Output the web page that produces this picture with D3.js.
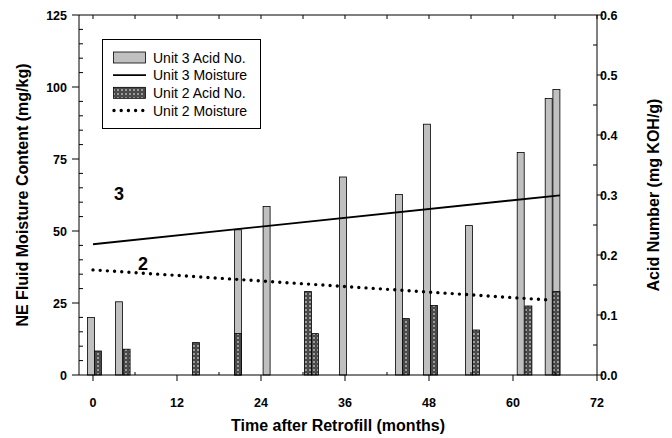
<!DOCTYPE html>
<html lang="en">
<head>
    <meta charset="UTF-8">
    <title>Moisture and acid number after retrofill</title>
    <script src="https://d3js.org/d3.v7.min.js"></script>
    <style>
        body { margin: 0; background: #fff; }
        svg { display: block; font-family: "Liberation Sans", Arial, sans-serif; }
        .tick-label { font-size: 12.5px; font-weight: bold; }
        .axis-title { font-size: 16px; font-weight: bold; }
    </style>
</head>
<body>
    <svg width="672" height="438"></svg>

    <script>
        // months of each bar (bar centre) and acid number (mg KOH/g)
        const unit3Months = [-0.3, 3.7, 20.7, 24.8, 35.7, 43.7, 47.7, 53.7, 61.1, 65.1, 66.2];
        const unit3Acid   = [0.096, 0.122, 0.242, 0.281, 0.330, 0.301, 0.418, 0.249, 0.371, 0.461, 0.476];
        const unit2Months = [0.7, 4.8, 14.7, 20.7, 30.7, 31.7, 44.7, 48.7, 54.7, 62.2, 66.2];
        const unit2Acid   = [0.040, 0.043, 0.054, 0.069, 0.139, 0.069, 0.094, 0.116, 0.075, 0.115, 0.139];

        // moisture trend lines (mg/kg)
        const unit3Moisture = [[0, 45.4], [66.7, 62.4]];
        const unit2Moisture = [[0, 36.5], [65.4, 26.0]];

        const xTicks = [0, 12, 24, 36, 48, 60, 72];
        const yLeftTicks = [0, 25, 50, 75, 100, 125];
        const yRightTicks = [0, 0.1, 0.2, 0.3, 0.4, 0.5, 0.6];

        const legendItems = ["Unit 3 Acid No.", "Unit 3 Moisture", "Unit 2 Acid No.", "Unit 2 Moisture"];

        const svg = d3.select("svg");
        const pLeft = 79, pRight = 597, pTop = 15, pBottom = 375;

        const x = d3.scaleLinear().domain([-2, 72]).range([pLeft, pRight]);
        const yL = d3.scaleLinear().domain([0, 125]).range([pBottom, pTop]);
        const yR = d3.scaleLinear().domain([0, 0.6]).range([pBottom, pTop]);
        const barW = x(1) - x(0);

        // crosshatch fill
        const defs = svg.append("defs");
        const pat = defs.append("pattern")
            .attr("id", "hatch")
            .attr("patternUnits", "userSpaceOnUse")
            .attr("width", 4).attr("height", 4);
        pat.append("rect").attr("width", 4).attr("height", 4).attr("fill", "#3c3c3c");
        pat.append("path").attr("d", "M2,0.6L3.4,2L2,3.4L0.6,2Z").attr("fill", "#b0b0b0");
        pat.append("path").attr("d", "M0,0L0.6,0L0,0.6ZM4,0L3.4,0L4,0.6ZM0,4L0.6,4L0,3.4ZM4,4L3.4,4L4,3.4Z").attr("fill", "#b0b0b0");

        // bars
        svg.append("g").selectAll("rect")
            .data(d3.zip(unit3Months, unit3Acid))
            .enter().append("rect")
            .attr("x", d => x(d[0]) - barW / 2)
            .attr("y", d => yR(d[1]))
            .attr("width", barW)
            .attr("height", d => pBottom - yR(d[1]))
            .attr("fill", "#c0c0c0")
            .attr("stroke", "#000")
            .attr("stroke-width", 0.8);

        svg.append("g").selectAll("rect")
            .data(d3.zip(unit2Months, unit2Acid))
            .enter().append("rect")
            .attr("x", d => x(d[0]) - barW / 2)
            .attr("y", d => yR(d[1]))
            .attr("width", barW)
            .attr("height", d => pBottom - yR(d[1]))
            .attr("fill", "url(#hatch)")
            .attr("stroke", "#000")
            .attr("stroke-width", 0.8);

        // moisture lines
        const line = d3.line().x(d => x(d[0])).y(d => yL(d[1]));
        svg.append("path").datum(unit3Moisture)
            .attr("d", line).attr("fill", "none")
            .attr("stroke", "#000").attr("stroke-width", 1.8);
        svg.append("path").datum(unit2Moisture)
            .attr("d", line).attr("fill", "none")
            .attr("stroke", "#000").attr("stroke-width", 3.4)
            .attr("stroke-linecap", "round")
            .attr("stroke-dasharray", "0 7.2");

        // frame
        const ax = svg.append("g").attr("stroke", "#000").attr("stroke-width", 1);
        ax.append("line").attr("x1", pLeft).attr("x2", pRight).attr("y1", pBottom).attr("y2", pBottom);
        ax.append("line").attr("x1", pLeft).attr("x2", pRight).attr("y1", pTop).attr("y2", pTop);
        ax.append("line").attr("x1", pLeft).attr("x2", pLeft).attr("y1", pTop).attr("y2", pBottom);
        ax.append("line").attr("x1", pRight).attr("x2", pRight).attr("y1", pTop).attr("y2", pBottom);

        // bottom ticks: majors outward, minors inward
        ax.selectAll(".xmaj").data(xTicks).enter().append("line")
            .attr("x1", d => x(d)).attr("x2", d => x(d))
            .attr("y1", pBottom).attr("y2", pBottom + 6);
        ax.selectAll(".xmin").data(d3.range(6, 72, 12)).enter().append("line")
            .attr("x1", d => x(d)).attr("x2", d => x(d))
            .attr("y1", pBottom).attr("y2", pBottom - 3);
        // top ticks inward
        ax.selectAll(".xtop").data(d3.range(0, 73, 6)).enter().append("line")
            .attr("x1", d => x(d)).attr("x2", d => x(d))
            .attr("y1", pTop).attr("y2", pTop + 4);

        // left ticks
        ax.selectAll(".ylmaj").data(yLeftTicks).enter().append("line")
            .attr("x1", pLeft - 7).attr("x2", pLeft)
            .attr("y1", d => yL(d)).attr("y2", d => yL(d));
        ax.selectAll(".ylmin").data(d3.range(5, 125, 5).filter(v => v % 25)).enter().append("line")
            .attr("x1", pLeft).attr("x2", pLeft + 4)
            .attr("y1", d => yL(d)).attr("y2", d => yL(d));

        // right ticks
        ax.selectAll(".yrmaj").data(yRightTicks).enter().append("line")
            .attr("x1", pRight).attr("x2", pRight + 6)
            .attr("y1", d => yR(d)).attr("y2", d => yR(d));
        ax.selectAll(".yrmin").data(d3.range(0.05, 0.6, 0.1)).enter().append("line")
            .attr("x1", pRight - 4).attr("x2", pRight)
            .attr("y1", d => yR(d)).attr("y2", d => yR(d));

        // tick labels
        svg.append("g").selectAll("text").data(xTicks).enter().append("text")
            .attr("class", "tick-label")
            .attr("x", d => x(d)).attr("y", 407)
            .attr("text-anchor", "middle")
            .text(d => d);
        svg.append("g").selectAll("text").data(yLeftTicks).enter().append("text")
            .attr("class", "tick-label")
            .attr("x", 67).attr("y", d => yL(d) + 4.5)
            .attr("text-anchor", "end")
            .text(d => d);
        svg.append("g").selectAll("text").data(yRightTicks).enter().append("text")
            .attr("class", "tick-label")
            .attr("x", 600).attr("y", d => yR(d) + 4.5)
            .text(d => d.toFixed(1));

        // axis titles
        svg.append("text").attr("class", "axis-title")
            .attr("x", (pLeft + pRight) / 2).attr("y", 431)
            .attr("text-anchor", "middle")
            .text("Time after Retrofill (months)");
        svg.append("text").attr("class", "axis-title")
            .attr("transform", `translate(28,${(pTop + pBottom) / 2}) rotate(-90)`)
            .attr("text-anchor", "middle")
            .text("NE Fluid Moisture Content (mg/kg)");
        svg.append("text").attr("class", "axis-title")
            .attr("transform", `translate(659,${(pTop + pBottom) / 2}) rotate(-90)`)
            .attr("text-anchor", "middle")
            .text("Acid Number (mg KOH/g)");

        // unit labels on the lines
        svg.append("text").attr("x", 119).attr("y", 200)
            .attr("text-anchor", "middle")
            .attr("font-size", 18).attr("font-weight", "bold").text("3");
        svg.append("text").attr("x", 143).attr("y", 270)
            .attr("text-anchor", "middle")
            .attr("font-size", 18).attr("font-weight", "bold").text("2");

        // legend
        const lg = svg.append("g");
        lg.append("rect").attr("x", 102.5).attr("y", 39.5).attr("width", 158).attr("height", 89)
            .attr("fill", "#fff").attr("stroke", "#000").attr("stroke-width", 1);
        const rowY = d3.scalePoint().domain(legendItems).range([57.5, 110.5]);
        legendItems.forEach((name, i) => {
            const cy = rowY(name);
            if (i === 0 || i === 2) {
                lg.append("rect").attr("x", 113.5).attr("y", cy - 5.5).attr("width", 32).attr("height", 11)
                    .attr("fill", i === 0 ? "#c0c0c0" : "url(#hatch)")
                    .attr("stroke", "#000").attr("stroke-width", 0.8);
            } else if (i === 1) {
                lg.append("line").attr("x1", 113).attr("x2", 146).attr("y1", cy).attr("y2", cy)
                    .attr("stroke", "#000").attr("stroke-width", 1.8);
            } else {
                lg.append("line").attr("x1", 114).attr("x2", 146).attr("y1", cy).attr("y2", cy)
                    .attr("stroke", "#000").attr("stroke-width", 3.4)
                    .attr("stroke-linecap", "round").attr("stroke-dasharray", "0 7.2");
            }
            lg.append("text").attr("x", 153).attr("y", cy + 5)
                .attr("font-size", 14).text(name);
        });
    </script>
</body>
</html>
